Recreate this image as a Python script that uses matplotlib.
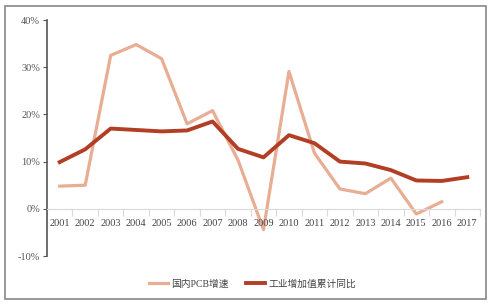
import numpy as np
import matplotlib.pyplot as plt
from matplotlib.patches import Rectangle

# === DATA ===
years = [str(y) for y in range(2001, 2018)]
pcb_growth = [4.8, 5.0, 32.5, 34.8, 31.8, 18.0, 20.8, 10.3, -4.4, 29.1, 11.8, 4.2, 3.2, 6.5, -1.1, 1.5]
industry_growth = [9.9, 12.6, 17.0, 16.7, 16.4, 16.6, 18.5, 12.7, 10.9, 15.6, 13.9, 10.0, 9.6, 8.2, 6.0, 5.9, 6.7]

LIGHT = "#E9AD93"
DARK = "#B23F25"

plt.rcParams['font.family'] = ['Liberation Serif', 'Noto Sans CJK SC']

fig = plt.figure(figsize=(4.93, 3.05), dpi=100)
ax = fig.add_axes([47 / 493, 1 - 256 / 305, 433 / 493, 236 / 305])

x = np.arange(len(years))
ax.plot(x[:len(pcb_growth)], pcb_growth, color=LIGHT, lw=2.3, label="国内PCB增速")
ax.plot(x, industry_growth, color=DARK, lw=2.8, label="工业增加值累计同比")

ax.set_xlim(-0.5, len(years) - 0.5)
ax.set_ylim(-10, 40)
ax.set_yticks([-10, 0, 10, 20, 30, 40])
ax.set_yticklabels([f"{v}%" for v in [-10, 0, 10, 20, 30, 40]], color="#555555", fontsize=7.5)

# category axis at zero, ticks at category boundaries
ax.spines['bottom'].set_position(('data', 0))
ax.spines['bottom'].set_color("#D9D9D9")
ax.spines['left'].set_color("#555555")
ax.spines['left'].set_linewidth(1.2)
ax.spines['top'].set_visible(False)
ax.spines['right'].set_visible(False)
ax.set_xticks(np.arange(-0.5, len(years), 1.0))
ax.set_xticklabels([])
ax.tick_params(axis='x', length=5, color="#D9D9D9")
ax.tick_params(axis='y', length=3, color="#555555", pad=2)
for i, yr in enumerate(years):
    ax.text(i, -2.2, yr, ha="center", va="top", fontsize=7.5, color="#444444")

fig.legend(loc="center", bbox_to_anchor=(0.512, 1 - 284 / 305), ncol=2, frameon=False,
           fontsize=7, handlelength=2.0, handletextpad=0.35, columnspacing=1.7,
           labelcolor="#444444")

# outer frame
fig.patches.append(Rectangle((5 / 493, 6 / 305), 481 / 493, 293 / 305, transform=fig.transFigure,
                             fill=False, edgecolor="#888888", lw=1.2))

fig.savefig("out.png", dpi=100)
